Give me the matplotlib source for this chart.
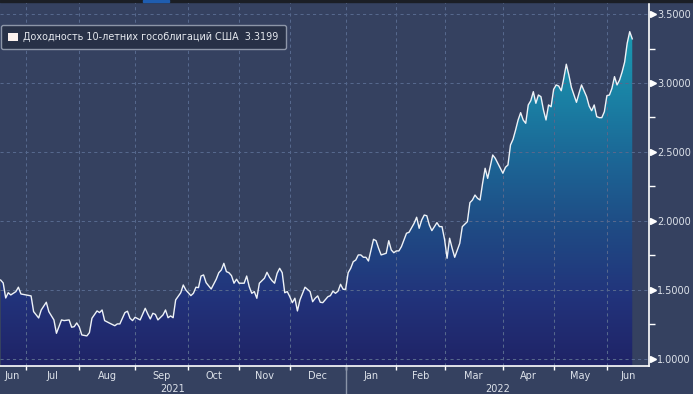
import numpy as np
import matplotlib
matplotlib.use("Agg")
import matplotlib.pyplot as plt
from matplotlib.colors import LinearSegmentedColormap
from matplotlib.patches import Patch, Rectangle

# trading session index (0 = mid June 2021) and 10y yield
session = [0, 1, 2, 3, 4, 6, 7, 8, 10, 12, 13, 15, 16, 18, 19, 21, 22, 24, 25, 27,
           28, 29, 30, 31, 32, 34, 35, 36, 38, 39, 40, 41, 43, 45, 46, 47, 49, 50, 51, 52,
           53, 55, 57, 58, 59, 60, 61, 62, 64, 65, 66, 67, 68, 69, 71, 72, 73, 75, 76, 77,
           78, 79, 80, 81, 83, 85, 86, 87, 88, 89, 90, 91, 92, 93, 94, 96, 97, 98, 99, 100,
           101, 102, 104, 105, 106, 107, 108, 109, 110, 111, 112, 113, 114, 115, 116, 117, 118, 120, 122, 123,
           124, 125, 126, 127, 129, 130, 131, 132, 133, 134, 135, 136, 137, 138, 139, 140, 141, 142, 143, 144,
           145, 146, 147, 148, 149, 150, 152, 153, 154, 155, 156, 157, 158, 160, 161, 162, 163, 164, 165, 166,
           167, 168, 169, 170, 172, 173, 174, 175, 176, 177, 178, 179, 181, 182, 184, 185, 186, 187, 188, 189,
           190, 191, 192, 193, 194, 195, 197, 198, 199, 200, 201, 202, 203, 204, 205, 206, 207, 208, 209, 210,
           211, 212, 213, 214, 215, 216, 217, 218, 219, 220, 221, 222, 223, 224, 225, 227, 228, 229, 231, 232,
           233, 234, 235, 236, 237, 238, 239, 240, 241, 242, 243, 244, 245, 246, 247, 248, 249]
yld = [1.572, 1.551, 1.442, 1.480, 1.464, 1.488, 1.520, 1.471, 1.464, 1.457, 1.343, 1.297, 1.355, 1.411, 1.343, 1.283, 1.186, 1.283, 1.278, 1.283,
       1.230, 1.234, 1.261, 1.232, 1.174, 1.167, 1.191, 1.295, 1.348, 1.336, 1.355, 1.278, 1.259, 1.241, 1.254, 1.254, 1.336, 1.346, 1.295, 1.278,
       1.302, 1.283, 1.367, 1.326, 1.290, 1.331, 1.323, 1.283, 1.319, 1.355, 1.299, 1.312, 1.299, 1.428, 1.480, 1.536, 1.500, 1.459, 1.476, 1.520,
       1.517, 1.601, 1.609, 1.553, 1.507, 1.578, 1.625, 1.645, 1.693, 1.633, 1.625, 1.604, 1.549, 1.578, 1.549, 1.549, 1.601, 1.524, 1.476, 1.488,
       1.440, 1.549, 1.585, 1.628, 1.592, 1.567, 1.549, 1.621, 1.657, 1.625, 1.480, 1.488, 1.451, 1.408, 1.440, 1.348, 1.428, 1.520, 1.488, 1.415,
       1.440, 1.457, 1.411, 1.408, 1.451, 1.459, 1.491, 1.476, 1.491, 1.541, 1.505, 1.505, 1.625, 1.657, 1.705, 1.717, 1.754, 1.754, 1.737, 1.737,
       1.710, 1.790, 1.867, 1.857, 1.802, 1.754, 1.766, 1.857, 1.790, 1.770, 1.783, 1.783, 1.814, 1.911, 1.918, 1.951, 1.983, 2.027, 1.947, 2.007,
       2.043, 2.038, 1.971, 1.930, 1.988, 1.959, 1.959, 1.867, 1.730, 1.875, 1.802, 1.737, 1.838, 1.959, 1.995, 2.133, 2.152, 2.188, 2.164, 2.152,
       2.273, 2.382, 2.309, 2.393, 2.478, 2.454, 2.382, 2.346, 2.389, 2.406, 2.551, 2.592, 2.659, 2.732, 2.785, 2.732, 2.708, 2.841, 2.872, 2.937,
       2.853, 2.913, 2.901, 2.804, 2.732, 2.841, 2.828, 2.954, 2.986, 2.978, 2.944, 3.034, 3.136, 3.058, 2.969, 2.860, 2.925, 2.986, 2.901, 2.833,
       2.799, 2.841, 2.756, 2.749, 2.749, 2.792, 2.908, 2.913, 2.962, 3.046, 2.986, 3.022, 3.080, 3.152, 3.288, 3.372, 3.320]

month_start = [10, 31, 53, 74, 94, 114, 136, 156, 175, 198, 218, 239]
month_names = ['Jun', 'Jul', 'Aug', 'Sep', 'Oct', 'Nov', 'Dec', 'Jan', 'Feb', 'Mar', 'Apr', 'May', 'Jun']
years = ['2021', '2022']
year_start = 136
y_ticks = [1.0, 1.5, 2.0, 2.5, 3.0, 3.5]
last_value = 3.3199
series_name = 'Доходность 10-летних гособлигаций США'

bg = '#354160'
fg = '#dde2ea'
x_lo, x_hi = -0.25, 255.6
y_lo, y_hi = 0.949, 3.587

fig = plt.figure(figsize=(6.93, 3.94), dpi=100, facecolor=bg)
ax = fig.add_axes([0, 28 / 394, 649 / 693, 364 / 394])
ax.set_facecolor(bg)

# gradient area under the line
cmap = LinearSegmentedColormap.from_list('bbg', [
    (0.0, '#1f2366'), (0.2, '#22337b'), (0.4, '#1f4a84'),
    (0.6, '#1c6595'), (0.8, '#1a82a5'), (1.0, '#1a9cb3')])
grad = np.linspace(y_lo, 3.4, 256).reshape(-1, 1)
im = ax.imshow(grad, extent=[session[0], session[-1], y_lo, 3.4], origin='lower',
               aspect='auto', cmap=cmap, vmin=y_lo, vmax=3.4, zorder=1)
poly = ax.fill_between(session, yld, y_lo, facecolor='none', lw=0)
im.set_clip_path(poly.get_paths()[0], transform=ax.transData)

ax.plot(session, yld, color='#eef2f7', lw=1.0, zorder=3)

ax.set_xlim(x_lo, x_hi)
ax.set_ylim(y_lo, y_hi)

# grid
ax.set_axisbelow('line')
ax.set_xticks(month_start)
ax.set_yticks(y_ticks)
ax.grid(True, color='#56688d', ls=(0, (3, 3)), lw=0.75)

# spines
for side in ['left', 'top']:
    ax.spines[side].set_visible(False)
for side in ['right', 'bottom']:
    ax.spines[side].set_color('white')
    ax.spines[side].set_linewidth(1.2)
    ax.spines[side].set_zorder(4)

# x axis: month ticks, labels centred in each month
ax.tick_params(axis='x', direction='out', length=3, width=1, color='white', labelbottom=False)
edges = [x_lo - 1] + month_start + [x_hi]
xt = ax.get_xaxis_transform()
for i, name in enumerate(month_names):
    ax.text((edges[i] + edges[i + 1]) / 2, -0.028, name, transform=xt, ha='center', va='center',
            color=fg, fontsize=7)
ax.text((x_lo + year_start) / 2, -0.062, years[0], transform=xt, ha='center', va='center', color=fg, fontsize=7)
ax.text((year_start + x_hi) / 2, -0.062, years[1], transform=xt, ha='center', va='center', color=fg, fontsize=7)
ax.plot([year_start, year_start], [0, -0.08], transform=xt, color='#8a94a8', lw=1, clip_on=False)

# y axis on the right
ax.yaxis.tick_right()
ax.set_yticklabels([f'{v:.4f}' for v in y_ticks])
ax.tick_params(axis='y', which='major', length=0, pad=6, labelcolor=fg, labelsize=7)
ax.set_yticks(np.arange(1.25, 3.5, 0.5), minor=True)
ax.tick_params(axis='y', which='minor', direction='out', length=4, width=1, color='white')
ax.plot(np.full(len(y_ticks), 1.0065), y_ticks, ls='none', marker='>', ms=5, color='white',
        transform=ax.get_yaxis_transform(), clip_on=False, zorder=5)

# legend
leg = ax.legend(handles=[Patch(facecolor='#fbf1ee', edgecolor='none')],
                labels=[f'{series_name}  {last_value:.4f}'],
                loc='upper left', bbox_to_anchor=(1 / 693, 1 - 25 / 394), bbox_transform=fig.transFigure,
                borderaxespad=0, fontsize=6.9, handlelength=1.0, handleheight=1.0, handletextpad=0.55,
                borderpad=0.75, labelcolor='#e6e9ef', facecolor='#283147', edgecolor='#8d96a8',
                framealpha=1, fancybox=True)
leg.set_zorder(6)

# dark strip on top with a blue tab
fig.patches.append(Rectangle((0, 1 - 2 / 394), 1, 2 / 394, transform=fig.transFigure, color='#1b1e25'))
fig.patches.append(Rectangle((143 / 693, 1 - 2 / 394), 26 / 693, 2 / 394, transform=fig.transFigure, color='#1f5db0'))

fig.savefig('out.png', dpi=100, facecolor=bg)
